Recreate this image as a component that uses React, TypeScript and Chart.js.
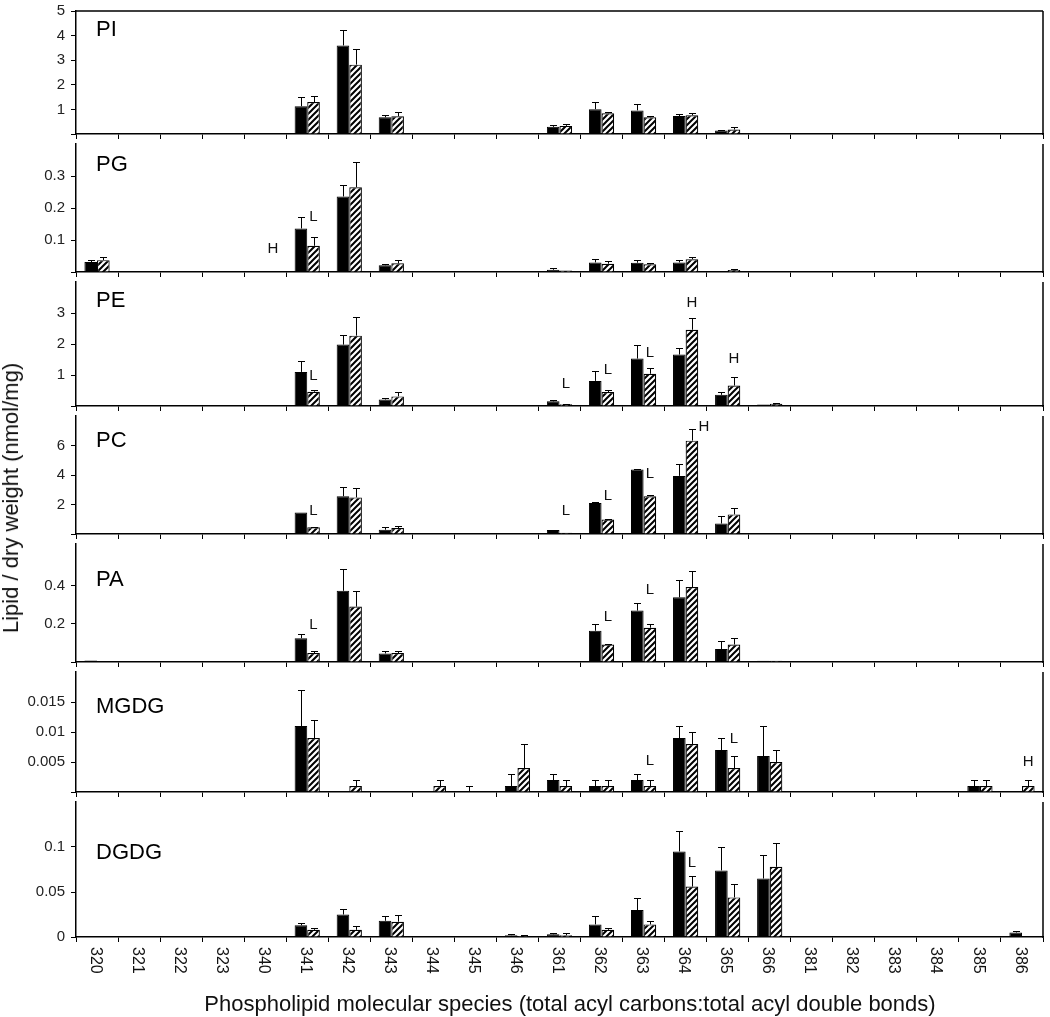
import React, { useEffect, useRef } from 'react';
import { Chart, registerables } from 'chart.js';

Chart.register(...registerables);

const N = null;

const categories = ['320', '321', '322', '323', '340', '341', '342', '343', '344', '345', '346', '361', '362', '363', '364', '365', '366', '381', '382', '383', '384', '385', '386'];

// ---- PI ----
const PI_ctrl = [0, 0, 0, 0, 0, 1.13, 3.6, 0.68, 0, 0, 0, 0.29, 1.01, 0.96, 0.73, 0.14, 0.04, 0, 0, 0, 0, 0, 0];
const PI_ctrlHi = [N, N, N, N, N, 1.5, 4.21, 0.79, N, N, N, 0.38, 1.29, 1.2, 0.83, 0.17, N, N, N, N, N, N, N];
const PI_trt = [0, 0, 0, 0, 0, 1.3, 2.82, 0.72, 0, 0, 0, 0.33, 0.84, 0.68, 0.76, 0.18, 0, 0, 0, 0, 0, 0, 0];
const PI_trtHi = [N, N, N, N, N, 1.54, 3.46, 0.88, N, N, N, 0.42, 0.91, 0.75, 0.84, 0.27, N, N, N, N, N, N, N];
const PI_ticks = [1, 2, 3, 4, 5];
const PI_marks: Mark[] = [];

// ---- PG ----
const PG_ctrl = [0.031, 0, 0, 0, 0, 0.136, 0.236, 0.021, 0, 0, 0, 0.007, 0.03, 0.029, 0.03, 0.002, 0, 0, 0, 0, 0, 0, 0];
const PG_ctrlHi = [0.037, N, N, N, N, 0.173, 0.271, 0.024, N, N, N, 0.014, 0.042, 0.036, 0.037, N, N, N, N, N, N, N, N];
const PG_trt = [0.037, 0, 0, 0, 0, 0.082, 0.265, 0.027, 0, 0, 0, 0.005, 0.026, 0.024, 0.04, 0.006, 0, 0, 0, 0, 0, 0, 0];
const PG_trtHi = [0.046, N, N, N, N, 0.11, 0.345, 0.037, N, N, N, N, 0.033, 0.027, 0.048, 0.008, N, N, N, N, N, N, N];
const PG_ticks = [0.1, 0.2, 0.3];
const PG_marks: Mark[] = [
  { cat: '341', text: 'L', y: 0.171, at: 'trt' },
  { cat: '341', text: 'H', y: 0.071, at: 'left' },
];

// ---- PE ----
const PE_ctrl = [0, 0, 0, 0, 0, 1.1, 1.98, 0.21, 0, 0, 0, 0.15, 0.81, 1.53, 1.66, 0.36, 0.05, 0, 0, 0, 0, 0, 0];
const PE_ctrlHi = [N, N, N, N, N, 1.46, 2.29, 0.26, N, N, N, 0.18, 1.14, 1.98, 1.88, 0.45, N, N, N, N, N, N, N];
const PE_trt = [0, 0, 0, 0, 0, 0.46, 2.27, 0.31, 0, 0, 0, 0.06, 0.45, 1.04, 2.46, 0.66, 0.07, 0, 0, 0, 0, 0, 0];
const PE_trtHi = [N, N, N, N, N, 0.52, 2.88, 0.45, N, N, N, 0.08, 0.52, 1.24, 2.85, 0.92, 0.09, N, N, N, N, N, N];
const PE_ticks = [1, 2, 3];
const PE_marks: Mark[] = [
  { cat: '341', text: 'L', y: 0.97, at: 'trt' },
  { cat: '361', text: 'L', y: 0.72, at: 'trt' },
  { cat: '362', text: 'L', y: 1.16, at: 'trt' },
  { cat: '363', text: 'L', y: 1.71, at: 'trt' },
  { cat: '364', text: 'H', y: 3.32, at: 'trt' },
  { cat: '365', text: 'H', y: 1.53, at: 'trt' },
];

// ---- PC ----
const PC_ctrl = [0.06, 0, 0, 0, 0, 1.46, 2.56, 0.29, 0, 0, 0, 0.27, 2.1, 4.37, 3.94, 0.71, 0.05, 0, 0, 0.05, 0, 0, 0];
const PC_ctrlHi = [N, N, N, N, N, N, 3.17, 0.48, N, N, N, N, 2.15, 4.42, 4.77, 1.25, N, N, N, N, N, N, N];
const PC_trt = [0, 0, 0, 0, 0, 0.46, 2.48, 0.4, 0, 0, 0, 0.08, 0.98, 2.56, 6.33, 1.33, 0.05, 0, 0, 0.05, 0, 0, 0];
const PC_trtHi = [N, N, N, N, N, 0.5, 3.1, 0.54, N, N, N, N, 1.04, 2.67, 7.14, 1.79, N, N, N, N, N, N, N];
const PC_ticks = [2, 4, 6];
const PC_marks: Mark[] = [
  { cat: '341', text: 'L', y: 1.6, at: 'trt' },
  { cat: '361', text: 'L', y: 1.6, at: 'trt' },
  { cat: '362', text: 'L', y: 2.6, at: 'trt' },
  { cat: '363', text: 'L', y: 4.1, at: 'trt' },
  { cat: '364', text: 'H', y: 7.27, at: 'right' },
];

// ---- PA ----
const PA_ctrl = [0.008, 0, 0, 0, 0, 0.125, 0.374, 0.045, 0.003, 0.003, 0.003, 0, 0.164, 0.27, 0.34, 0.068, 0.006, 0, 0, 0, 0, 0, 0];
const PA_ctrlHi = [N, N, N, N, N, 0.146, 0.49, 0.06, N, N, N, N, 0.2, 0.31, 0.429, 0.109, N, N, N, N, N, N, N];
const PA_trt = [0.003, 0, 0, 0, 0, 0.047, 0.291, 0.047, 0.003, 0.003, 0.003, 0, 0.092, 0.18, 0.394, 0.092, 0.006, 0, 0, 0, 0, 0, 0];
const PA_trtHi = [N, N, N, N, N, 0.056, 0.371, 0.06, N, N, N, N, 0.095, 0.2, 0.476, 0.125, N, N, N, N, N, N, N];
const PA_ticks = [0.2, 0.4];
const PA_marks: Mark[] = [
  { cat: '341', text: 'L', y: 0.195, at: 'trt' },
  { cat: '362', text: 'L', y: 0.236, at: 'trt' },
  { cat: '363', text: 'L', y: 0.378, at: 'trt' },
];

// ---- MGDG ----
const MGDG_ctrl = [0, 0, 0, 0, 0, 0.011, 0, 0, 0, 0, 0.001, 0.002, 0.001, 0.002, 0.009, 0.007, 0.006, 0, 0, 0, 0, 0.001, 0];
const MGDG_ctrlHi = [N, N, N, N, N, 0.017, N, N, N, 0.001, 0.003, 0.003, 0.002, 0.003, 0.011, 0.009, 0.011, N, N, N, N, 0.002, N];
const MGDG_trt = [0, 0, 0, 0, 0, 0.009, 0.001, 0, 0.001, 0, 0.004, 0.001, 0.001, 0.001, 0.008, 0.004, 0.005, 0, 0, 0, 0, 0.001, 0.001];
const MGDG_trtHi = [N, N, N, N, N, 0.012, 0.002, N, 0.002, N, 0.008, 0.002, 0.002, 0.002, 0.01, 0.006, 0.007, N, N, N, N, 0.002, 0.002];
const MGDG_ticks = [0.005, 0.01, 0.015];
const MGDG_marks: Mark[] = [
  { cat: '363', text: 'L', y: 0.0052, at: 'trt' },
  { cat: '365', text: 'L', y: 0.0088, at: 'trt' },
  { cat: '386', text: 'H', y: 0.0051, at: 'trt' },
];

// ---- DGDG ----
const DGDG_ctrl = [0, 0, 0, 0, 0, 0.013, 0.025, 0.018, 0, 0, 0.002, 0.003, 0.014, 0.03, 0.095, 0.074, 0.065, 0, 0, 0, 0, 0, 0.005];
const DGDG_ctrlHi = [N, N, N, N, N, 0.016, 0.031, 0.023, N, N, 0.003, 0.005, 0.023, 0.043, 0.118, 0.1, 0.091, N, N, N, N, N, 0.007];
const DGDG_trt = [0, 0, 0, 0, 0, 0.008, 0.008, 0.017, 0, 0, 0.001, 0.002, 0.008, 0.014, 0.056, 0.044, 0.078, 0, 0, 0, 0, 0, 0];
const DGDG_trtHi = [N, N, N, N, N, 0.01, 0.012, 0.024, N, N, 0.002, 0.004, 0.01, 0.018, 0.068, 0.059, 0.104, N, N, N, N, N, N];
const DGDG_ticks = [0, 0.05, 0.1];
const DGDG_marks: Mark[] = [{ cat: '364', text: 'L', y: 0.082, at: 'trt' }];

const yTitle = 'Lipid / dry weight (nmol/mg)';
const xTitle = 'Phospholipid molecular species (total acyl carbons:total acyl double bonds)';

type Mark = { cat: string; text: string; y: number; at: 'trt' | 'left' | 'right' };
type Panel = {
  name: string;
  ctrl: number[];
  ctrlHi: (number | null)[];
  trt: number[];
  trtHi: (number | null)[];
  max: number;
  ticks: number[];
  marks: Mark[];
};

const panels: Panel[] = [
  { name: 'PI', ctrl: PI_ctrl, ctrlHi: PI_ctrlHi, trt: PI_trt, trtHi: PI_trtHi, max: 5, ticks: PI_ticks, marks: PI_marks },
  { name: 'PG', ctrl: PG_ctrl, ctrlHi: PG_ctrlHi, trt: PG_trt, trtHi: PG_trtHi, max: 0.4, ticks: PG_ticks, marks: PG_marks },
  { name: 'PE', ctrl: PE_ctrl, ctrlHi: PE_ctrlHi, trt: PE_trt, trtHi: PE_trtHi, max: 4, ticks: PE_ticks, marks: PE_marks },
  { name: 'PC', ctrl: PC_ctrl, ctrlHi: PC_ctrlHi, trt: PC_trt, trtHi: PC_trtHi, max: 8, ticks: PC_ticks, marks: PC_marks },
  { name: 'PA', ctrl: PA_ctrl, ctrlHi: PA_ctrlHi, trt: PA_trt, trtHi: PA_trtHi, max: 0.62, ticks: PA_ticks, marks: PA_marks },
  { name: 'MGDG', ctrl: MGDG_ctrl, ctrlHi: MGDG_ctrlHi, trt: MGDG_trt, trtHi: MGDG_trtHi, max: 0.02, ticks: MGDG_ticks, marks: MGDG_marks },
  { name: 'DGDG', ctrl: DGDG_ctrl, ctrlHi: DGDG_ctrlHi, trt: DGDG_trt, trtHi: DGDG_trtHi, max: 0.15, ticks: DGDG_ticks, marks: DGDG_marks },
];

// ---- layout / style (page pixels) ----
const FONT = '"Liberation Sans", Arial, Helvetica, sans-serif';
const PANEL_EDGES = [6, 139, 277, 411, 539, 667, 797, 937];
const TITLE_DY = [19, 21, 19, 25, 36, 35, 51];
const AXIS_LEFT = 76;
const RIGHT_PAD = 7;
const TOP_PAD = 10;
const BOTTOM_PAD = 10;
const LAST_BOTTOM = 64;
const W = 1050;

function makeHatch(): CanvasPattern | string {
  const s = 6;
  const c = document.createElement('canvas');
  c.width = s;
  c.height = s;
  const g = c.getContext('2d');
  if (!g) return '#fff';
  g.fillStyle = '#fff';
  g.fillRect(0, 0, s, s);
  g.strokeStyle = '#000';
  g.lineWidth = 2;
  g.beginPath();
  g.moveTo(-1, s + 1);
  g.lineTo(s + 1, -1);
  g.moveTo(-s / 2 - 1, s / 2 + 1);
  g.lineTo(s / 2 + 1, -s / 2 - 1);
  g.moveTo(s / 2 - 1, s * 1.5 + 1);
  g.lineTo(s * 1.5 + 1, s / 2 - 1);
  g.stroke();
  return g.createPattern(c, 'repeat') || '#fff';
}

function makeChart(canvas: HTMLCanvasElement, p: Panel, k: number, isLast: boolean) {
  const his = [p.ctrlHi, p.trtHi];
  const vals = [p.ctrl, p.trt];
  const panelPlugin = {
    id: 'panelDecor' + k,
    afterDatasetsDraw(chart: any) {
      const ctx = chart.ctx;
      const ys = chart.scales.y;
      ctx.save();
      ctx.strokeStyle = '#000';
      ctx.lineWidth = 1;
      for (let d = 0; d < 2; d++) {
        const meta = chart.getDatasetMeta(d);
        his[d].forEach((hi, i) => {
          if (hi === null || hi === undefined) return;
          const bar = meta.data[i];
          const x = Math.round(bar.x) + 0.5;
          const y0 = ys.getPixelForValue(vals[d][i]);
          const y1 = Math.round(ys.getPixelForValue(hi)) + 0.5;
          ctx.beginPath();
          ctx.moveTo(x, y0);
          ctx.lineTo(x, y1);
          ctx.moveTo(x - 3.5, y1);
          ctx.lineTo(x + 3.5, y1);
          ctx.stroke();
        });
      }
      ctx.restore();
    },
    afterDraw(chart: any) {
      const ctx = chart.ctx;
      const area = chart.chartArea;
      const xs = chart.scales.x;
      const ys = chart.scales.y;
      ctx.save();
      // frame
      ctx.strokeStyle = '#000';
      ctx.lineWidth = 1.5;
      ctx.beginPath();
      ctx.moveTo(area.right, area.top);
      ctx.lineTo(area.right, area.bottom + 1);
      if (k === 0) {
        ctx.moveTo(area.left, area.top);
        ctx.lineTo(area.right, area.top);
      }
      ctx.stroke();
      // panel name
      ctx.fillStyle = '#000';
      ctx.font = '22px ' + FONT;
      ctx.textAlign = 'left';
      ctx.textBaseline = 'middle';
      ctx.fillText(p.name, area.left + 20, area.top + TITLE_DY[k]);
      // significance marks
      ctx.font = '15px ' + FONT;
      ctx.textAlign = 'center';
      ctx.fillStyle = '#111';
      const m0 = chart.getDatasetMeta(0);
      const m1 = chart.getDatasetMeta(1);
      p.marks.forEach((m) => {
        const i = categories.indexOf(m.cat);
        if (i < 0) return;
        let x = m1.data[i].x;
        if (m.at === 'left') x = m0.data[i].x - 28;
        if (m.at === 'right') x = m1.data[i].x + 12;
        ctx.fillText(m.text, x, ys.getPixelForValue(m.y));
      });
      // rotated category labels
      if (isLast) {
        ctx.font = '16px ' + FONT;
        ctx.fillStyle = '#111';
        ctx.textAlign = 'left';
        ctx.textBaseline = 'middle';
        categories.forEach((c, i) => {
          const x = xs.getPixelForValue(i);
          ctx.save();
          ctx.translate(x - 2, area.bottom + 10);
          ctx.rotate(Math.PI / 2);
          ctx.fillText(c, 0, 0);
          ctx.restore();
        });
      }
      ctx.restore();
    },
  };

  return new Chart(canvas, {
    type: 'bar',
    data: {
      labels: categories,
      datasets: [
        {
          label: 'black',
          data: p.ctrl,
          backgroundColor: '#000',
          borderColor: '#000',
          borderWidth: 1,
          barPercentage: 1,
          categoryPercentage: 0.6,
        },
        {
          label: 'hatched',
          data: p.trt,
          backgroundColor: makeHatch() as any,
          borderColor: '#000',
          borderWidth: 1.2,
          barPercentage: 1,
          categoryPercentage: 0.6,
        },
      ],
    },
    options: {
      animation: false,
      responsive: false,
      maintainAspectRatio: false,
      events: [],
      layout: { padding: { left: 0, right: RIGHT_PAD, top: TOP_PAD, bottom: 0 } },
      plugins: { legend: { display: false }, tooltip: { enabled: false } },
      scales: {
        x: {
          offset: true,
          grid: { display: true, drawOnChartArea: false, drawTicks: true, tickLength: 5, color: '#000', lineWidth: 1, offset: true },
          border: { display: true, color: '#000', width: 1.5 },
          ticks: { display: false },
          afterFit: (s: any) => {
            s.height = isLast ? LAST_BOTTOM : BOTTOM_PAD;
          },
        },
        y: {
          min: 0,
          max: p.max,
          afterBuildTicks: (s: any) => {
            const list = p.ticks.includes(0) ? p.ticks : [0, ...p.ticks];
            s.ticks = list.map((v) => ({ value: v }));
          },
          grid: { display: true, drawOnChartArea: false, drawTicks: true, tickLength: 5, color: '#000', lineWidth: 1 },
          border: { display: true, color: '#000', width: 1.5 },
          ticks: {
            color: '#222',
            padding: 6,
            font: { family: FONT, size: 15 },
            callback: (v: any) => (p.ticks.includes(Number(v)) ? String(v) : ''),
          },
          afterFit: (s: any) => {
            s.width = AXIS_LEFT;
          },
        },
      },
    },
    plugins: [panelPlugin],
  } as any);
}

export default function App() {
  const refs = useRef<(HTMLCanvasElement | null)[]>([]);

  useEffect(() => {
    const charts = panels.map((p, k) => {
      const c = refs.current[k];
      return c ? makeChart(c, p, k, k === panels.length - 1) : null;
    });
    return () => {
      charts.forEach((c) => c && c.destroy());
    };
  }, []);

  return (
    <div style={{ position: 'absolute', left: 0, top: 0, width: W, height: 1017, overflow: 'hidden', background: '#fff', fontFamily: FONT, color: '#111' }}>
      {panels.map((p, k) => {
        const top = PANEL_EDGES[k];
        const bottom = PANEL_EDGES[k + 1];
        const isLast = k === panels.length - 1;
        const h = bottom - top + TOP_PAD + (isLast ? LAST_BOTTOM : BOTTOM_PAD);
        return (
          <canvas
            key={p.name}
            ref={(el) => {
              refs.current[k] = el;
            }}
            width={W}
            height={h}
            style={{ position: 'absolute', left: 0, top: top - TOP_PAD, width: W, height: h, display: 'block' }}
          />
        );
      })}
      <div
        style={{
          position: 'absolute',
          left: 11,
          top: 498,
          transform: 'translate(-50%, -50%) rotate(-90deg)',
          whiteSpace: 'nowrap',
          fontSize: 22,
          lineHeight: '24px',
        }}
      >
        {yTitle}
      </div>
      <div
        style={{
          position: 'absolute',
          left: 570,
          top: 1004,
          transform: 'translate(-50%, -50%)',
          whiteSpace: 'nowrap',
          fontSize: 22,
          lineHeight: '24px',
        }}
      >
        {xTitle}
      </div>
    </div>
  );
}
